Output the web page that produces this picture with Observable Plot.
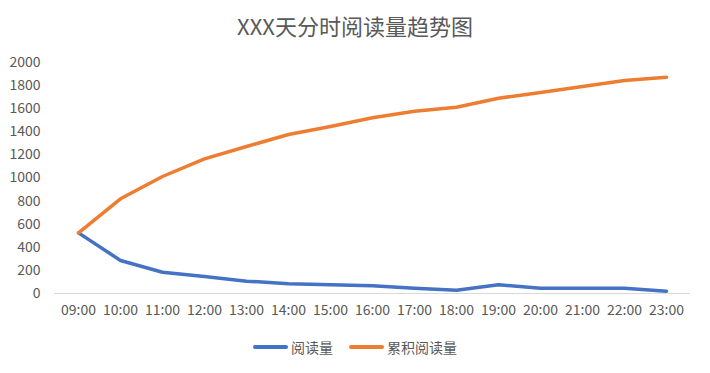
<!DOCTYPE html>
<html>
<head>
<meta charset="utf-8">
<script src="https://cdn.jsdelivr.net/npm/d3@7"></script>
<script src="https://cdn.jsdelivr.net/npm/@observablehq/plot@0.6"></script>
<style>
  body { margin: 0; background: #fff; }
  #wrap { position: relative; width: 710px; height: 373px; font-family: "Noto Sans CJK SC", "Noto Sans", sans-serif; }
  #title { position: absolute; left: 0; top: 10px; width: 710px; text-align: center; font-size: 22px; color: #595959; line-height: 30px; }
  #legend { position: absolute; left: 0; top: 336px; width: 710px; display: flex; justify-content: center; gap: 16px; font-size: 14px; color: #595959; line-height: 22px; }
  .item { display: flex; align-items: center; }
  .sw { width: 35px; height: 4px; margin-right: 3px; border-radius: 2px; }
  svg { position: absolute; left: 0; top: 0; }
</style>
</head>
<body>
<div id="wrap">
  <div id="chart"></div>
  <div id="title">XXX天分时阅读量趋势图</div>
  <div id="legend"></div>
</div>
<script>
const hours = ["09:00","10:00","11:00","12:00","13:00","14:00","15:00","16:00","17:00","18:00","19:00","20:00","21:00","22:00","23:00"];
const reads = [525, 286, 184, 147, 107, 84, 75, 67, 46, 29, 75, 46, 46, 46, 20];
const cumulative = [525, 820, 1013, 1166, 1273, 1377, 1446, 1521, 1578, 1613, 1691, 1740, 1792, 1844, 1873];
const yTicks = [0, 200, 400, 600, 800, 1000, 1200, 1400, 1600, 1800, 2000];
const seriesNames = ["阅读量", "累积阅读量"];
const seriesColors = ["#4472C4", "#ED7D31"];

const rows = [];
hours.forEach((h, i) => {
  rows.push({hour: h, value: reads[i], series: seriesNames[0]});
  rows.push({hour: h, value: cumulative[i], series: seriesNames[1]});
});

const chart = Plot.plot({
  width: 710,
  height: 373,
  marginTop: 62,
  marginBottom: 80,
  marginLeft: 54,
  marginRight: 20,
  style: {fontFamily: "'Noto Sans CJK SC', 'Noto Sans', sans-serif", fontSize: "14px", color: "#595959", background: "transparent"},
  x: {type: "point", domain: hours, padding: 0.5},
  y: {domain: [0, 2000]},
  color: {domain: seriesNames, range: seriesColors},
  marks: [
    Plot.ruleY([0], {stroke: "#d9d9d9", strokeWidth: 1}),
    Plot.axisY({ticks: yTicks, tickFormat: d => String(d), tickSize: 0, tickPadding: 14, label: null, fill: "#595959"}),
    Plot.axisX({tickSize: 0, tickPadding: 12, label: null, fill: "#595959"}),
    Plot.line(rows, {x: "hour", y: "value", z: "series", stroke: "series", strokeWidth: 3.5, strokeLinejoin: "round", strokeLinecap: "round"})
  ]
});
document.getElementById("chart").appendChild(chart);

const legend = document.getElementById("legend");
seriesNames.forEach((n, i) => {
  const it = document.createElement("div");
  it.className = "item";
  const sw = document.createElement("div");
  sw.className = "sw";
  sw.style.background = seriesColors[i];
  const t = document.createElement("span");
  t.textContent = n;
  it.appendChild(sw); it.appendChild(t);
  legend.appendChild(it);
});
</script>
</body>
</html>
